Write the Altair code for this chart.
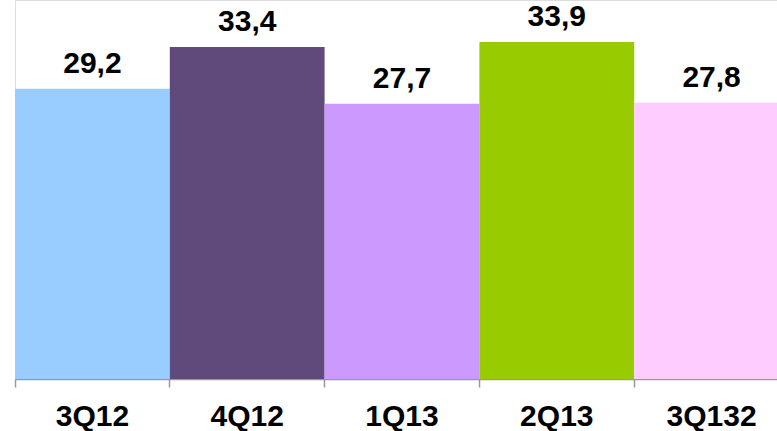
import altair as alt
import pandas as pd

categories = ["3Q12", "4Q12", "1Q13", "2Q13", "3Q132"]
values = [29.2, 33.4, 27.7, 33.9, 27.8]
labels = ["29,2", "33,4", "27,7", "33,9", "27,8"]
colors = ["#99CCFF", "#604A7B", "#CC99FF", "#99CC00", "#FFCCFF"]

df = pd.DataFrame({"cat": categories, "val": values, "lab": labels})

xscale = alt.Scale(domain=categories, range=[0, 774], paddingInner=0, paddingOuter=0)
yscale = alt.Scale(domain=[0, 38.13], nice=False, zero=True)

base = alt.Chart(df)

bars = base.mark_bar(stroke=None).encode(
    x=alt.X("cat:N", scale=xscale, sort=categories,
            axis=alt.Axis(title=None, labels=False, bandPosition=0, tickSize=8, orient="bottom",
                          tickColor="#999999", domainColor="#999999", tickWidth=1.5,
                          domainWidth=1.5)),
    y=alt.Y("val:Q", scale=yscale, axis=None),
    color=alt.Color("cat:N", scale=alt.Scale(domain=categories, range=colors), legend=None),
)

text = base.mark_text(font="Liberation Sans", fontWeight="bold", fontSize=30,
                      baseline="alphabetic", dy=-16, color="#000000").encode(
    x=alt.X("cat:N", scale=xscale, sort=categories,
            axis=alt.Axis(title=None, ticks=False, domain=False, labelPadding=22, orient="bottom",
                          labelFont="Liberation Sans", labelFontWeight="bold",
                          labelFontSize=30, labelColor="#000000", labelAngle=0)),
    y=alt.Y("val:Q", scale=yscale, axis=None),
    text="lab:N",
)

chart = alt.layer(bars, text).resolve_axis(x="independent").properties(
    width=762, height=379,
    autosize=alt.AutoSizeParams(type="none"),
    padding={"left": 15, "top": 0, "right": 0, "bottom": 52},
).configure_view(stroke=None).configure(background="white")

chart.save("out.html", embed_options={"renderer": "svg", "actions": False})
